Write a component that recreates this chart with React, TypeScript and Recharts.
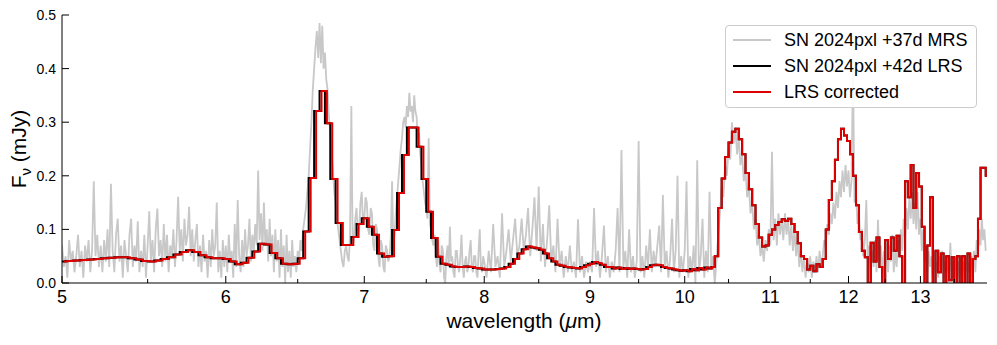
import { Line, LineChart, XAxis, YAxis } from "recharts";

// MRS spectrum (grey): 5-8 um sampled every 0.01 um, 8-14 um every 0.02 um
const mrs5 = [
  0.07, 0.03, 0.05, 0.01, 0.08, 0.04, 0.06, 0.02, 0.05, 0.09,
  0.03, 0.06, 0.01, 0.07, 0.04, 0.08, 0.02, 0.06, 0.19, 0.05,
  0.09, 0.03, 0.07, 0.02, 0.08, 0.04, 0.1, 0.03, 0.185, 0.06,
  0.02, 0.09, 0.12, 0.04, 0.07, 0.01, 0.08, 0.05, 0.02, 0.09,
  0.12, 0.03, 0.07, 0.04, 0.115, 0.02, 0.06, 0.03, 0.09, 0.01,
  0.07, 0.134, 0.04, 0.08, 0.02, 0.1, 0.139, 0.05, 0.08, 0.03,
  0.11, 0.04, 0.09, 0.02, 0.07, 0.05, 0.1, 0.03, 0.08, 0.161,
  0.06, 0.1, 0.04, 0.12, 0.07, 0.09, 0.142, 0.05, 0.1, 0.04,
  0.08, 0.11, 0.03, 0.07, 0.02, 0.09, 0.04, 0.06, 0.01, 0.08,
  0.03, 0.1, 0.05, 0.07, 0.15, 0.02, 0.06, 0.01, 0.08, 0.03,
];
const mrs6 = [
  0.07, 0.02, 0.09, 0.04, 0.06, 0.01, 0.11, 0.03, 0.155, 0.05,
  0.02, 0.08, 0.03, 0.1, 0.05, 0.07, 0.12, 0.04, 0.09, 0.06,
  0.11, 0.07, 0.21, 0.08, 0.13, 0.06, 0.15, 0.07, 0.1, 0.04,
  0.12, 0.05, 0.09, 0.02, 0.1, 0.04, 0.08, 0.01, 0.1, 0.03,
  0.07, 0.0, 0.09, 0.02, 0.06, 0.01, 0.08, 0.03, 0.05, 0.02,
  0.06, 0.04, 0.08, 0.06, 0.1, 0.12, 0.14, 0.17, 0.2, 0.25,
  0.3, 0.36, 0.4, 0.44, 0.47, 0.42, 0.485, 0.41, 0.48, 0.4,
  0.43, 0.38, 0.36, 0.31, 0.28, 0.24, 0.21, 0.17, 0.15, 0.12,
  0.1, 0.08, 0.06, 0.04, 0.03, 0.06, 0.07, 0.05, 0.04, 0.09,
  0.33, 0.07, 0.08, 0.12, 0.14, 0.09, 0.1, 0.15, 0.17, 0.11,
];
const mrs7 = [
  0.12, 0.16, 0.15, 0.1, 0.09, 0.14, 0.13, 0.07, 0.06, 0.11,
  0.1, 0.05, 0.03, 0.08, 0.07, 0.03, 0.02, 0.07, 0.06, 0.04,
  0.05, 0.09, 0.19, 0.07, 0.09, 0.13, 0.16, 0.19, 0.22, 0.25,
  0.27, 0.3, 0.31, 0.29, 0.33, 0.31, 0.355, 0.32, 0.33, 0.3,
  0.35, 0.32, 0.31, 0.27, 0.28, 0.24, 0.22, 0.19, 0.17, 0.15,
  0.14, 0.12, 0.27, 0.11, 0.1, 0.08, 0.07, 0.09, 0.05, 0.03,
  0.08, 0.04, 0.02, 0.07, 0.06, 0.01, 0.0, 0.05, 0.07, 0.03,
  0.105, 0.04, 0.05, 0.02, 0.01, 0.06, 0.06, 0.03, 0.02, 0.05,
  0.09, 0.03, 0.01, 0.04, 0.05, 0.02, 0.03, 0.06, 0.08, 0.03,
  0.02, 0.05, 0.05, 0.02, 0.01, 0.06, 0.1, 0.03, 0.02, 0.05,
];
const mrs8 = [
  0.04, 0.01, 0.06, 0.02, 0.11, 0.03, 0.05, 0.01, 0.13, 0.03,
  0.06, 0.1, 0.04, 0.08, 0.12, 0.05, 0.07, 0.12, 0.06, 0.09,
  0.14, 0.05, 0.1, 0.16, 0.06, 0.18, 0.04, 0.11, 0.03, 0.08,
  0.145, 0.04, 0.07, 0.02, 0.12, 0.03, 0.06, 0.01, 0.05, 0.02,
  0.07, 0.02, 0.04, 0.01, 0.119, 0.02, 0.05, 0.01, 0.04, 0.02,
];
const mrs9 = [
  0.04, 0.02, 0.14, 0.03, 0.06, 0.01, 0.05, 0.107, 0.02, 0.05,
  0.01, 0.04, 0.02, 0.06, 0.14, 0.02, 0.248, 0.03, 0.06, 0.01,
  0.1, 0.02, 0.05, 0.01, 0.04, 0.265, 0.02, 0.05, 0.01, 0.07,
  0.03, 0.1, 0.02, 0.06, 0.03, 0.07, 0.107, 0.02, 0.164, 0.03,
  0.06, 0.01, 0.05, 0.12, 0.02, 0.06, 0.2, 0.01, 0.05, 0.02,
];
const mrs10 = [
  0.06, 0.19, 0.01, 0.05, 0.02, 0.07, 0.0, 0.229, 0.02, 0.05,
  0.12, 0.01, 0.06, 0.02, 0.17, 0.03, 0.05, 0.0, 0.04, 0.09,
  0.13, 0.18, 0.16, 0.22, 0.2, 0.25, 0.23, 0.3, 0.26, 0.29,
  0.24, 0.27, 0.22, 0.24, 0.19, 0.21, 0.16, 0.18, 0.13, 0.15,
  0.1, 0.12, 0.07, 0.09, 0.05, 0.07, 0.04, 0.08, 0.06, 0.1,
];
const mrs11 = [
  0.07, 0.245, 0.08, 0.12, 0.07, 0.13, 0.09, 0.12, 0.08, 0.13,
  0.09, 0.12, 0.07, 0.11, 0.06, 0.1, 0.05, 0.08, 0.03, 0.06,
  0.02, 0.05, 0.01, 0.04, 0.02, 0.05, 0.01, 0.04, 0.02, 0.05,
  0.02, 0.06, 0.03, 0.05, 0.08, 0.07, 0.11, 0.09, 0.13, 0.11,
  0.15, 0.12, 0.17, 0.14, 0.19, 0.16, 0.21, 0.17, 0.22, 0.18,
];
const mrs12 = [
  0.21, 0.16, 0.19, 0.4, 0.15, 0.17, 0.11, 0.13, 0.08, 0.1,
  0.05, 0.08, 0.155, 0.04, 0.07, 0.02, 0.06, 0.03, 0.08, 0.02,
  0.118, 0.04, 0.07, 0.01, 0.06, 0.03, 0.08, 0.02, 0.07, 0.04,
  0.09, 0.02, 0.06, 0.03, 0.08, 0.05, 0.1, 0.06, 0.12, 0.08,
  0.14, 0.1, 0.16, 0.12, 0.17, 0.11, 0.15, 0.1, 0.17, 0.09,
];
const mrs13 = [
  0.12, 0.06, 0.1, 0.04, 0.07, 0.02, 0.06, 0.03, 0.05, 0.01,
  0.06, 0.02, 0.04, 0.01, 0.05, 0.03, 0.06, 0.01, 0.04, 0.02,
  0.05, 0.01, 0.075, 0.02, 0.04, 0.01, 0.05, 0.02, 0.04, 0.01,
  0.05, 0.02, 0.04, 0.01, 0.05, 0.02, 0.04, 0.01, 0.05, 0.03,
  0.06, 0.02, 0.08, 0.05, 0.1, 0.07, 0.12, 0.08, 0.1, 0.06,
];

// LRS spectrum (black / red), sampled every 0.04 um
const lrsStep = 0.04;
const lrs5 = [
  0.04, 0.041, 0.042, 0.043, 0.044, 0.045, 0.046, 0.047, 0.048, 0.048,
  0.046, 0.044, 0.041, 0.04, 0.042, 0.045, 0.048, 0.053, 0.058, 0.061,
  0.058, 0.052, 0.048, 0.046, 0.046,
];
const lrs6 = [
  0.045, 0.04, 0.035, 0.038, 0.047, 0.059, 0.073, 0.072, 0.056, 0.046,
  0.036, 0.035, 0.036, 0.046, 0.096, 0.196, 0.321, 0.358, 0.298, 0.194,
  0.112, 0.071, 0.071, 0.086, 0.11,
];
const lrs7 = [
  0.121, 0.105, 0.09, 0.055, 0.049, 0.05, 0.099, 0.168, 0.239, 0.29,
  0.29, 0.254, 0.194, 0.133, 0.084, 0.049, 0.036, 0.034, 0.031, 0.03,
  0.03, 0.031, 0.03, 0.028, 0.027,
];
const lrs8 = [
  0.025, 0.025, 0.025, 0.026, 0.027, 0.03, 0.036, 0.045, 0.055, 0.063,
  0.068, 0.066, 0.065, 0.062, 0.055, 0.046, 0.04, 0.034, 0.032, 0.03,
  0.029, 0.028, 0.027, 0.03, 0.033,
];
const lrs9 = [
  0.036, 0.039, 0.037, 0.034, 0.03, 0.03, 0.027, 0.029, 0.026, 0.028,
  0.026, 0.027, 0.026, 0.025, 0.026, 0.03, 0.033, 0.034, 0.033, 0.03,
  0.028, 0.027, 0.025, 0.024, 0.023,
];
const lrs10 = [
  0.024, 0.022, 0.026, 0.024, 0.028, 0.025, 0.029, 0.027, 0.03, 0.05,
  0.14, 0.195, 0.235, 0.262, 0.282, 0.288, 0.268, 0.24, 0.205, 0.175,
  0.145, 0.11, 0.085, 0.068, 0.07,
];
const lrs11 = [
  0.09, 0.1, 0.108, 0.114, 0.119, 0.116, 0.12, 0.11, 0.095, 0.074,
  0.05, 0.045, 0.025, 0.032, 0.022, 0.035, 0.03, 0.045, 0.1, 0.155,
  0.19, 0.23, 0.268, 0.288, 0.275,
];
const lrs12 = [
  0.265, 0.24, 0.2, 0.145, 0.095, 0.06, 0.048, 0.0, 0.075, 0.04,
  0.085, 0.03, -0.01, 0.08, 0.045, 0.085, 0.06, 0.088, 0.05, -0.01,
  0.19, 0.16, 0.22, 0.14, 0.205,
];
const lrs13 = [
  0.18, 0.105, -0.01, 0.07, 0.16, -0.01, 0.06, 0.02, 0.055, -0.01,
  0.05, 0.005, 0.048, -0.01, 0.05, 0.0, 0.05, -0.01, 0.055, 0.0,
  0.045, 0.05, 0.12, 0.215, 0.215,
];
const lrsLast = [0.2];

// wavelength correction applied to the LRS below this wavelength
const shiftCutoff = 10.3;
const shiftFactor = 1.0022;

const xTicks = [
  5, 5.5, 6, 6.5, 7, 7.5, 8, 8.5, 9, 9.5, 10, 10.5, 11, 11.5, 12, 12.5, 13, 13.5,
];
const yTicks = [0, 0.1, 0.2, 0.3, 0.4, 0.5];

const FONT = '"Liberation Sans", Arial, Helvetica, sans-serif';
const GREY = "#c8c8c8";
const RED = "#dc0000";

function toPoints(start: number, step: number, values: number[]) {
  return values.map((v, i) => ({
    x: Number((start + i * step).toFixed(3)),
    y: v,
  }));
}

const mrsData = [
  ...toPoints(5, 0.01, mrs5),
  ...toPoints(6, 0.01, mrs6),
  ...toPoints(7, 0.01, mrs7),
  ...toPoints(8, 0.02, mrs8),
  ...toPoints(9, 0.02, mrs9),
  ...toPoints(10, 0.02, mrs10),
  ...toPoints(11, 0.02, mrs11),
  ...toPoints(12, 0.02, mrs12),
  ...toPoints(13, 0.02, mrs13),
];
const lrsData = [
  ...toPoints(5, lrsStep, lrs5),
  ...toPoints(6, lrsStep, lrs6),
  ...toPoints(7, lrsStep, lrs7),
  ...toPoints(8, lrsStep, lrs8),
  ...toPoints(9, lrsStep, lrs9),
  ...toPoints(10, lrsStep, lrs10),
  ...toPoints(11, lrsStep, lrs11),
  ...toPoints(12, lrsStep, lrs12),
  ...toPoints(13, lrsStep, lrs13),
  ...toPoints(14, lrsStep, lrsLast),
];
const correctedData = lrsData.map((p) => ({
  x: p.x < shiftCutoff ? p.x * shiftFactor : p.x,
  y: p.y,
}));

const isMajor = (v: number) => Number.isInteger(v);

function BottomTick(props: any) {
  const { x, y, payload } = props;
  const major = isMajor(payload.value);
  return (
    <g>
      <line x1={x} y1={y} x2={x} y2={y - (major ? 7 : 4)} stroke="#000" strokeWidth={1} />
      {major && (
        <text x={x} y={y + 20} textAnchor="middle" fontSize={18} fontFamily={FONT} fill="#000">
          {payload.value}
        </text>
      )}
    </g>
  );
}

function TopTick(props: any) {
  const { x, y, payload } = props;
  const major = isMajor(payload.value);
  return <line x1={x} y1={y} x2={x} y2={y + (major ? 7 : 4)} stroke="#000" strokeWidth={1} />;
}

function LeftTick(props: any) {
  const { x, y, payload } = props;
  return (
    <g>
      <line x1={x} y1={y} x2={x + 7} y2={y} stroke="#000" strokeWidth={1} />
      <text x={x - 6} y={y} dy="0.36em" textAnchor="end" fontSize={14} fontFamily={FONT} fill="#000">
        {Number(payload.value).toFixed(1)}
      </text>
    </g>
  );
}

const xLabel = () => (
  <text x={524} y={328} textAnchor="middle" fontSize={21} fontFamily={FONT} fill="#000">
    wavelength (<tspan fontStyle="italic">μ</tspan>m)
  </text>
);

const yLabel = () => (
  <text
    x={26}
    y={149}
    transform="rotate(-90 26 149)"
    textAnchor="middle"
    fontSize={21}
    fontFamily={FONT}
    fill="#000"
  >
    F<tspan fontSize={15} dy={5}>ν</tspan>
    <tspan dy={-5}> (mJy)</tspan>
  </text>
);

const legendItems = [
  { label: "SN 2024pxl +37d MRS", color: GREY },
  { label: "SN 2024pxl +42d LRS", color: "#000" },
  { label: "LRS corrected", color: RED },
];

export default function App() {
  return (
    <div style={{ position: "absolute", left: 0, top: 0, width: 997, height: 345, background: "#fff" }}>
      <LineChart width={997} height={345} margin={{ top: 15, right: 10, bottom: 0, left: 0 }}>
        <XAxis
          xAxisId="bottom"
          dataKey="x"
          type="number"
          scale="log"
          domain={[5, 14]}
          allowDataOverflow
          ticks={xTicks}
          interval={0}
          height={62}
          tickLine={false}
          tickSize={0}
          tickMargin={0}
          tick={<BottomTick />}
          axisLine={{ stroke: "#000", strokeWidth: 1 }}
          label={xLabel}
        />
        <XAxis
          xAxisId="top"
          orientation="top"
          dataKey="x"
          type="number"
          scale="log"
          domain={[5, 14]}
          allowDataOverflow
          ticks={xTicks}
          interval={0}
          height={0}
          tickLine={false}
          tickSize={0}
          tickMargin={0}
          tick={<TopTick />}
          axisLine={{ stroke: "#000", strokeWidth: 1 }}
        />
        <YAxis
          yAxisId="left"
          type="number"
          domain={[0, 0.5]}
          allowDataOverflow
          ticks={yTicks}
          interval={0}
          width={62}
          tickLine={false}
          tickSize={0}
          tickMargin={0}
          tick={<LeftTick />}
          axisLine={{ stroke: "#000", strokeWidth: 1 }}
          label={yLabel}
        />
        <YAxis
          yAxisId="right"
          orientation="right"
          type="number"
          domain={[0, 0.5]}
          width={0}
          tick={false}
          tickLine={false}
          axisLine={{ stroke: "#000", strokeWidth: 1 }}
        />
        <Line
          xAxisId="bottom"
          yAxisId="left"
          data={mrsData}
          dataKey="y"
          type="linear"
          stroke={GREY}
          strokeWidth={1.8}
          dot={false}
          activeDot={false}
          isAnimationActive={false}
        />
        <Line
          xAxisId="bottom"
          yAxisId="left"
          data={lrsData}
          dataKey="y"
          type="step"
          stroke="#000"
          strokeWidth={2}
          dot={false}
          activeDot={false}
          isAnimationActive={false}
        />
        <Line
          xAxisId="bottom"
          yAxisId="left"
          data={correctedData}
          dataKey="y"
          type="step"
          stroke={RED}
          strokeWidth={2}
          dot={false}
          activeDot={false}
          isAnimationActive={false}
        />
      </LineChart>

      <div
        style={{
          position: "absolute",
          left: 725,
          top: 25,
          width: 252,
          height: 83,
          boxSizing: "border-box",
          border: "1px solid #cccccc",
          borderRadius: 4,
          background: "rgba(255,255,255,0.9)",
          fontFamily: FONT,
          fontSize: 18,
          color: "#000",
        }}
      >
        {legendItems.map((item, i) => (
          <div key={item.label} style={{ position: "absolute", left: 0, top: 14 + i * 26, width: "100%" }}>
            <div
              style={{
                position: "absolute",
                left: 7,
                top: -1,
                width: 38,
                height: 2,
                background: item.color,
              }}
            />
            <div style={{ position: "absolute", left: 58, top: -11, lineHeight: "22px", whiteSpace: "nowrap" }}>
              {item.label}
            </div>
          </div>
        ))}
      </div>
    </div>
  );
}
